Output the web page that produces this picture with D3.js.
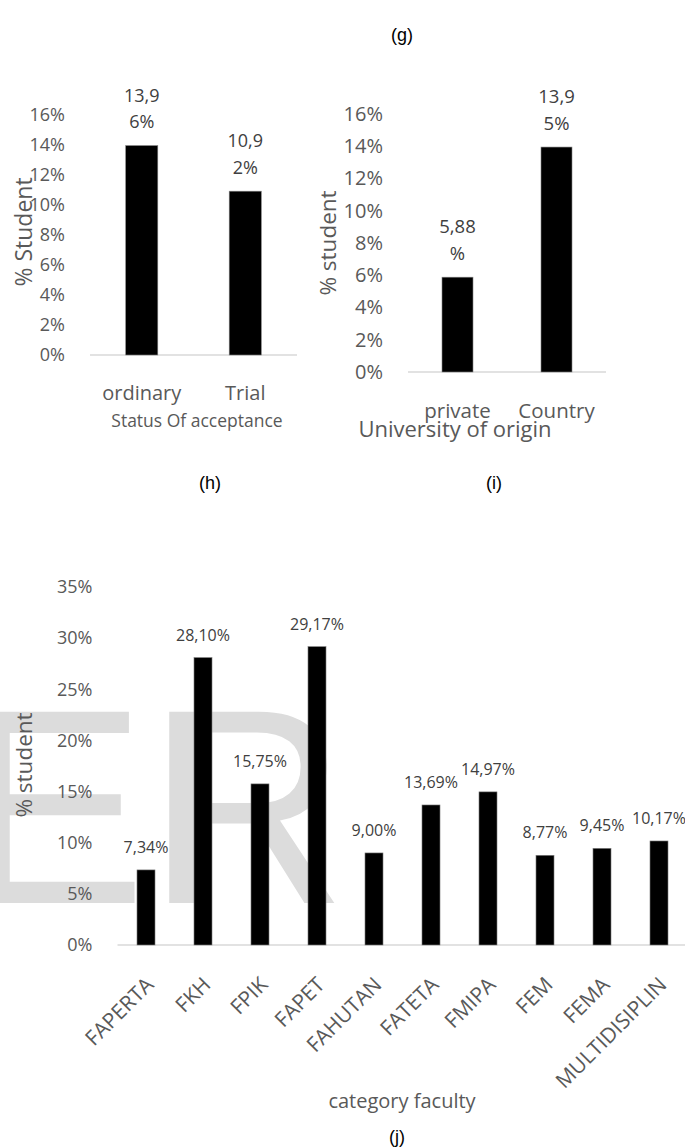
<!DOCTYPE html>
<html>
<head>
<meta charset="utf-8">
<script src="https://cdn.jsdelivr.net/npm/d3@7"></script>
<style>
  body { margin: 0; background: #fff; }
  text { font-family: "Open Sans", sans-serif; }
</style>
</head>
<body>
<svg id="fig" width="685" height="1147"></svg>
<script>
// Share of students, by admission status
const acceptanceCats = ["ordinary", "Trial"];
const acceptanceVals = [13.96, 10.92];

// Share of students, by type of university of origin
const originCats = ["private", "Country"];
const originVals = [5.88, 13.95];

// Share of students, by faculty
const facultyCats = ["FAPERTA", "FKH", "FPIK", "FAPET", "FAHUTAN", "FATETA", "FMIPA", "FEM", "FEMA", "MULTIDISIPLIN"];
const facultyVals = [7.34, 28.10, 15.75, 29.17, 9.00, 13.69, 14.97, 8.77, 9.45, 10.17];

const smallTicks = [0, 2, 4, 6, 8, 10, 12, 14, 16];
const facultyTicks = [0, 5, 10, 15, 20, 25, 30, 35];

const panelLabels = ["(g)", "(h)", "(i)", "(j)"];

const svg = d3.select("#fig");
svg.append("rect").attr("width", 685).attr("height", 1147).attr("fill", "#fff");

const TXT = "#595959";
const LBL = "#404040";
const AXIS = "#d9d9d9";

const pct = v => d3.format(".2f")(v).replace(".", ",") + "%";
const tickPct = v => v + "%";

// Light "ER" lettering sitting behind the faculty chart
svg.append("text")
  .attr("x", -39).attr("y", 903)
  .style("font-family", "'Liberation Sans', Arial, sans-serif")
  .attr("font-size", 278)
  .attr("fill", "#dcdcdc")
  .text("ER");

function barChart(o) {
  const g = svg.append("g");
  const x = d3.scaleBand().domain(o.cats).range(o.xr).paddingInner(0).paddingOuter(0);
  const y = d3.scaleLinear().domain(o.dom).range(o.yr);
  const bw = x.bandwidth() * o.barFrac;

  // value axis (labels only)
  const ax = g.append("g")
    .attr("transform", `translate(${o.xr[0]},0)`)
    .call(d3.axisLeft(y).tickValues(o.ticks).tickFormat(tickPct).tickSize(0).tickPadding(25));
  ax.select(".domain").remove();
  ax.selectAll("text")
    .attr("fill", TXT)
    .style("font-family", "'Open Sans', sans-serif")
    .attr("font-size", o.tickSize);

  // category baseline
  g.append("line")
    .attr("x1", o.xr[0]).attr("x2", o.xr[1])
    .attr("y1", y(0)).attr("y2", y(0))
    .attr("stroke", AXIS).attr("stroke-width", 1.6);

  const data = o.cats.map((c, i) => ({ c, v: o.vals[i] }));

  g.selectAll("rect.bar").data(data).join("rect")
    .attr("class", "bar")
    .attr("x", d => x(d.c) + (x.bandwidth() - bw) / 2)
    .attr("y", d => y(d.v))
    .attr("width", bw)
    .attr("height", d => y(0) - y(d.v))
    .attr("fill", "#000")
    .attr("stroke", "#7f7f7f").attr("stroke-width", 0.6);

  return { g, x, y, data };
}

// ---------- (h) admission status ----------
{
  const c = barChart({
    cats: acceptanceCats, vals: acceptanceVals, xr: [90, 297], yr: [355, 115],
    dom: [0, 16], ticks: smallTicks, barFrac: 0.31, tickSize: 18
  });
  const lab = c.g.selectAll("text.val").data(c.data).join("text")
    .attr("class", "val")
    .attr("text-anchor", "middle")
    .attr("fill", LBL).attr("font-size", 18);
  lab.append("tspan")
    .attr("x", d => c.x(d.c) + c.x.bandwidth() / 2)
    .attr("y", d => c.y(d.v) - 44)
    .text(d => pct(d.v).slice(0, 4));
  lab.append("tspan")
    .attr("x", d => c.x(d.c) + c.x.bandwidth() / 2)
    .attr("y", d => c.y(d.v) - 17.5)
    .text(d => pct(d.v).slice(4));

  c.g.selectAll("text.cat").data(acceptanceCats).join("text")
    .attr("class", "cat")
    .attr("x", d => c.x(d) + c.x.bandwidth() / 2).attr("y", 400)
    .attr("text-anchor", "middle").attr("fill", TXT).attr("font-size", 20)
    .text(d => d);

  c.g.append("text").attr("x", 197).attr("y", 427)
    .attr("text-anchor", "middle").attr("fill", TXT).attr("font-size", 17.5)
    .text("Status Of acceptance");

  c.g.append("text")
    .attr("transform", "translate(24,232) rotate(-90)")
    .attr("text-anchor", "middle").attr("dy", "0.35em")
    .attr("fill", TXT).attr("font-size", 23)
    .text("% Student");
}

// ---------- (i) university of origin ----------
{
  const c = barChart({
    cats: originCats, vals: originVals, xr: [408, 606], yr: [372, 114],
    dom: [0, 16], ticks: smallTicks, barFrac: 0.313, tickSize: 20
  });
  const lab = c.g.selectAll("text.val").data(c.data).join("text")
    .attr("class", "val")
    .attr("text-anchor", "middle")
    .attr("fill", LBL).attr("font-size", 18.5);
  lab.append("tspan")
    .attr("x", d => c.x(d.c) + c.x.bandwidth() / 2)
    .attr("y", d => c.y(d.v) - 44)
    .text(d => pct(d.v).slice(0, 4));
  lab.append("tspan")
    .attr("x", d => c.x(d.c) + c.x.bandwidth() / 2)
    .attr("y", d => c.y(d.v) - 17.5)
    .text(d => pct(d.v).slice(4));

  c.g.selectAll("text.cat").data(originCats).join("text")
    .attr("class", "cat")
    .attr("x", d => c.x(d) + c.x.bandwidth() / 2).attr("y", 418)
    .attr("text-anchor", "middle").attr("fill", TXT).attr("font-size", 20.5)
    .text(d => d);

  c.g.append("text").attr("x", 455).attr("y", 437)
    .attr("text-anchor", "middle").attr("fill", TXT).attr("font-size", 22)
    .text("University of origin");

  c.g.append("text")
    .attr("transform", "translate(328,243) rotate(-90)")
    .attr("text-anchor", "middle").attr("dy", "0.35em")
    .attr("fill", TXT).attr("font-size", 22.5)
    .text("% student");
}

// ---------- (j) faculty ----------
{
  const c = barChart({
    cats: facultyCats, vals: facultyVals, xr: [117.5, 687.5], yr: [945, 587],
    dom: [0, 35], ticks: facultyTicks, barFrac: 0.316, tickSize: 18
  });
  c.g.selectAll("text.val").data(c.data).join("text")
    .attr("class", "val")
    .attr("x", d => c.x(d.c) + c.x.bandwidth() / 2)
    .attr("y", d => c.y(d.v) - 17)
    .attr("text-anchor", "middle").attr("fill", LBL).attr("font-size", 16)
    .text(d => pct(d.v));

  c.g.selectAll("text.cat").data(facultyCats).join("text")
    .attr("class", "cat")
    .attr("transform", d => `translate(${c.x(d) + c.x.bandwidth() / 2 + 9},986) rotate(-45)`)
    .attr("text-anchor", "end").attr("fill", TXT).attr("font-size", 21)
    .text(d => d);

  c.g.append("text").attr("x", 402).attr("y", 1108)
    .attr("text-anchor", "middle").attr("fill", TXT).attr("font-size", 20)
    .text("category faculty");

  c.g.append("text")
    .attr("transform", "translate(24,765) rotate(-90)")
    .attr("text-anchor", "middle").attr("dy", "0.35em")
    .attr("fill", TXT).attr("font-size", 22.5)
    .text("% student");
}

// ---------- panel letters ----------
const panelPos = [[402, 41], [210, 489], [494, 489], [397, 1143]];
svg.selectAll("text.panel").data(panelLabels).join("text")
  .attr("class", "panel")
  .attr("x", (d, i) => panelPos[i][0]).attr("y", (d, i) => panelPos[i][1])
  .attr("text-anchor", "middle")
  .style("font-family", "'Liberation Sans', Arial, sans-serif")
  .attr("font-size", 18).attr("fill", "#000")
  .text(d => d);
</script>
</body>
</html>
